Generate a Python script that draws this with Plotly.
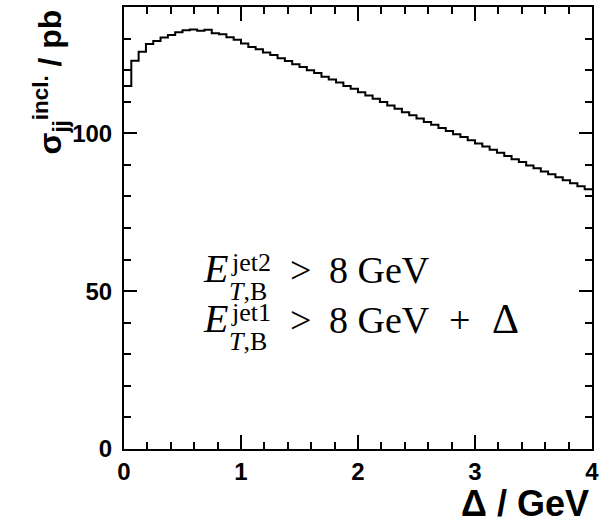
import numpy as np
import plotly.graph_objects as go

# Binning of the inclusive dijet cross section in the cut offset Delta (GeV)
DELTA_MIN = 0.0
DELTA_MAX = 4.0
N_BINS = 64

# sigma_jj^incl. in pb, one value per bin
SIGMA_PB = [
    115.0, 123.0, 125.8, 128.3, 129.2, 130.3, 131.1, 132.0,
    132.6, 132.9, 132.5, 132.8, 131.7, 131.4, 130.4, 129.6,
    128.4, 127.3, 126.6, 125.6, 124.8, 123.8, 122.9, 121.9,
    121.0, 120.0, 119.1, 117.9, 117.0, 116.1, 115.0, 114.1,
    113.0, 112.0, 110.9, 109.9, 108.8, 107.8, 106.7, 105.7,
    104.7, 103.6, 102.7, 101.7, 100.7, 99.7, 98.8, 97.8,
    96.8, 95.8, 94.8, 93.8, 92.8, 91.8, 90.9, 89.8,
    88.9, 87.9, 87.0, 86.1, 85.1, 84.2, 83.2, 82.3,
]

X_TICKS = [0, 1, 2, 3, 4]
Y_TICKS = [0, 50, 100]
Y_RANGE = [0, 140]

edges = np.linspace(DELTA_MIN, DELTA_MAX, N_BINS + 1)
step_x = list(edges)
step_y = list(SIGMA_PB) + [SIGMA_PB[-1]]

SANS = "Liberation Sans, Arial, Helvetica, sans-serif"
SERIF = "Liberation Serif, Times New Roman, serif"

fig = go.Figure()
fig.add_trace(go.Scatter(
    x=step_x, y=step_y, mode="lines",
    line=dict(color="black", width=2, shape="hv"),
    hoverinfo="skip", showlegend=False,
))

axis_common = dict(
    showgrid=False, zeroline=False,
    showline=True, linecolor="black", linewidth=2,
    mirror="ticks", ticks="inside", tickcolor="black", tickwidth=1.5,
    tickfont=dict(family=SANS, size=24, color="black", weight="bold"),
)

fig.update_xaxes(
    range=[DELTA_MIN, DELTA_MAX], tickvals=X_TICKS, ticklen=14,
    minor=dict(ticks="inside", dtick=0.2, ticklen=7, tickcolor="black", tickwidth=1.5),
    ticklabelstandoff=0,
    **axis_common,
)
fig.update_yaxes(
    range=Y_RANGE, tickvals=Y_TICKS, ticklen=13,
    minor=dict(ticks="inside", dtick=10, ticklen=7, tickcolor="black", tickwidth=1.5),
    ticklabelstandoff=5,
    **axis_common,
)

L, R, T, B = 124, 15, 7, 74
W, H = 607, 523
PW, PH = W - L - R, H - T - B


def px(xp):
    return (xp - L) / PW


def py(yp):
    return (H - B - yp) / PH


ann = []
# axis titles
ann.append(dict(
    text="Δ / GeV", xref="paper", yref="paper", x=px(591), y=py(503),
    xanchor="right", yanchor="middle", showarrow=False,
    font=dict(family=SANS, size=36, color="black", weight="bold"),
))
ann.append(dict(
    text="σ<sub>jj</sub><sup>incl.</sup> / pb", xref="paper", yref="paper",
    x=px(50), y=py(8), xanchor="center", yanchor="top", textangle=-90,
    showarrow=False,
    font=dict(family=SANS, size=32, color="black", weight="bold"),
))


def serif(text, x, y, size, xanchor="left", yanchor="bottom"):
    return dict(text=text, xref="paper", yref="paper", x=px(x), y=py(y),
                xanchor=xanchor, yanchor=yanchor, showarrow=False,
                font=dict(family=SERIF, size=size, color="black"))


# cut labels: E_T,B^jet > threshold
cuts = [("jet2", 284, False), ("jet1", 334, True)]
for sup, base, with_delta in cuts:
    ann.append(serif("<i>E</i>", 201, base + 9, 40))
    ann.append(serif(sup, 229, base - 22, 26, yanchor="middle"))
    ann.append(serif("<i>T</i>,B", 227, base + 7, 26, yanchor="middle"))
    ann.append(serif("&gt;", 288, base + 9, 38))
    ann.append(serif("8 GeV", 327, base + 9, 38))
    if with_delta:
        ann.append(serif("+", 447, base + 9, 38))
        ann.append(serif("Δ", 490, base + 10, 42))

fig.update_layout(
    width=W, height=H,
    margin=dict(l=L, r=R, t=T, b=B, autoexpand=False),
    paper_bgcolor="white", plot_bgcolor="white",
    annotations=ann,
)

fig.write_html("out.html")
